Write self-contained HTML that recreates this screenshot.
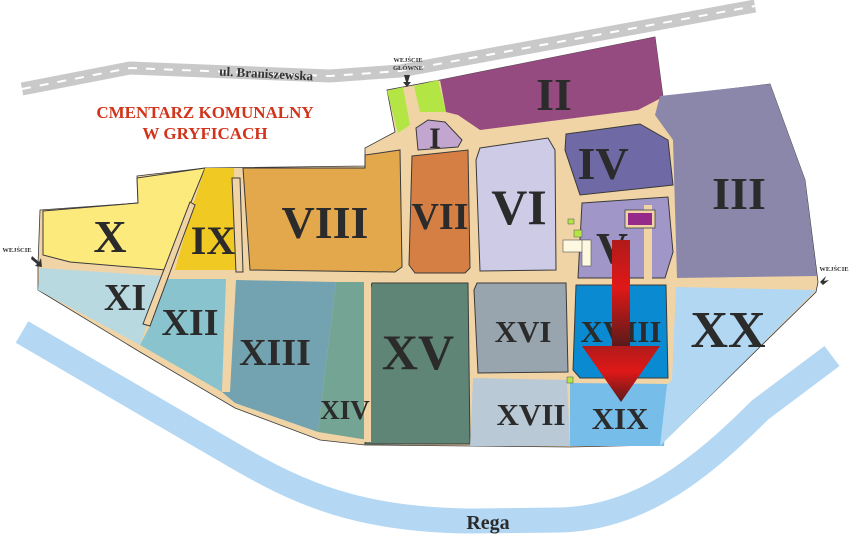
<!DOCTYPE html>
<html><head><meta charset="utf-8"><style>
html,body{margin:0;padding:0;background:#fff;width:851px;height:539px;overflow:hidden}
svg{display:block}
.n{font-family:"Liberation Serif",serif;font-weight:bold;fill:#2b2b2b;text-anchor:middle}
.s{stroke:#3a3a3a;stroke-width:1}
</style></head><body>
<svg width="851" height="539" viewBox="0 0 851 539">
<defs>
<linearGradient id="ar" x1="0" y1="0" x2="0" y2="1">
<stop offset="0" stop-color="#b01a1a"/><stop offset="0.45" stop-color="#e01818"/><stop offset="1" stop-color="#5a1a1a"/>
</linearGradient>
</defs>
<path d="M22,89 L130,68 L330,76 L400,71 L755,6" fill="none" stroke="#c8c9c8" stroke-width="13"/>
<path d="M22,89 L130,68 L330,76 L400,71 L755,6" fill="none" stroke="#fff" stroke-width="2" stroke-dasharray="9,9"/>
<text x="266" y="78" font-family="Liberation Serif,serif" font-weight="bold" font-size="13" fill="#333" transform="rotate(3 266 78)" text-anchor="middle">ul. Braniszewska</text>
<path d="M22,332 L235,456 C300,494 360,520 470,521 L560,520 C640,518 700,470 760,410 L832,356" fill="none" stroke="#b4d8f4" stroke-width="25"/>
<text x="488" y="529" class="n" font-size="20">Rega</text>
<polygon fill="#f0d4a6" stroke="#3a3a3a" stroke-width="0.8" points="40,210 138,203 137,176 205,168 365,166 365,148 395,132 387,90 440,80 655,37 663,97 770,84 805,180 818,282 816,292 660,445 570,447 470,446 365,445 320,440 235,408 140,352 38,290 38,265"/>
<polygon fill="#fdea7c" class="s" points="43,211 138,203 137,178 205,168 191,202 166,270 70,262 43,255"/>
<polygon fill="#f0c923" points="205,168 234,168 236,270 175,270 193,205"/>
<polygon fill="#e3a84c" class="s" points="243,168 365,168 365,155 400,150 402,267 395,272 250,270"/>
<polygon fill="#d67f45" class="s" points="412,156 468,150 470,268 465,273 415,273 409,265"/>
<polygon fill="#c3a6d0" class="s" points="416,128 428,120 445,122 462,140 458,147 418,150"/>
<polygon fill="#b3e645" points="387,91 403,87 410,125 398,133"/>
<polygon fill="#b3e645" points="414,86 438,80 446,112 420,112"/>
<polygon fill="#964b80" points="440,80 655,37 663,97 638,110 480,130 458,115 446,112"/>
<polygon fill="#cecbe6" class="s" points="480,148 548,138 555,150 556,270 480,271 476,160"/>
<polygon fill="#6f6aa5" class="s" points="566,134 640,124 668,140 673,185 580,195 565,150"/>
<polygon fill="#a097c8" class="s" points="582,203 668,197 673,252 665,278 578,278"/>
<rect x="644" y="205" width="8" height="75" fill="#f0d4a6"/>
<polygon fill="#8b87ab" points="660,96 770,84 805,180 817,276 677,278 673,140 655,115"/>
<polygon fill="#b9d9e0" points="40,268 162,276 145,330 140,345 38,290"/>
<polygon fill="#88c3ce" points="166,279 226,279 222,392 140,345 152,322"/>
<polygon fill="#73a3b0" points="236,280 336,282 318,432 235,403 222,392"/>
<polygon fill="#74a493" points="336,282 365,282 368,440 318,432"/>
<polygon fill="#5f8577" class="s" points="372,283 468,283 470,444 365,444 367,300"/>
<polygon fill="#99a5ae" class="s" points="477,283 566,283 568,372 478,373 474,290"/>
<polygon fill="#bac9d6" points="473,378 567,380 570,446 470,446"/>
<polygon fill="#0a8ad0" class="s" points="576,285 666,285 668,378 580,378 573,370"/>
<polygon fill="#77bdea" points="570,383 669,384 664,446 570,446"/>
<polygon fill="#b2d7f2" points="676,287 816,290 660,446 667,385 672,380"/>
<polygon fill="#f0d4a6" class="s" points="190,202 195,205 150,326 143,324"/>
<polygon fill="#f0d4a6" class="s" points="232,178 240,178 243,272 236,272"/>
<polygon fill="#f0d4a6" points="227,280 236,280 230,392 222,392"/>
<rect x="364" y="282" width="7" height="160" fill="#f0d4a6"/>
<rect x="563" y="240" width="27" height="12" fill="#fdf8e0" stroke="#555" stroke-width="0.6"/>
<rect x="582" y="240" width="9" height="26" fill="#fdf8e0" stroke="#555" stroke-width="0.6"/>
<rect x="568" y="219" width="6" height="5" fill="#b3e645" stroke="#555" stroke-width="0.5"/>
<rect x="574" y="230" width="8" height="7" fill="#b3e645" stroke="#555" stroke-width="0.5"/>
<rect x="625" y="210" width="30" height="18" fill="#f0d4a6" stroke="#444" stroke-width="0.8"/>
<rect x="628" y="213" width="24" height="12" fill="#952a8a"/>
<rect x="567" y="377" width="6" height="6" fill="#b3e645" stroke="#555" stroke-width="0.5"/>
<text x="554" y="110" class="n" font-size="46">II</text>
<text x="435" y="148" class="n" font-size="30">I</text>
<text x="603" y="179" class="n" font-size="46">IV</text>
<text x="739" y="209" class="n" font-size="46">III</text>
<text x="519" y="224" class="n" font-size="50">VI</text>
<text x="440" y="229" class="n" font-size="38">VII</text>
<text x="325" y="238" class="n" font-size="46">VIII</text>
<text x="213" y="254" class="n" font-size="40">IX</text>
<text x="110" y="252" class="n" font-size="46">X</text>
<text x="612" y="263" class="n" font-size="44">V</text>
<text x="125" y="310" class="n" font-size="38">XI</text>
<text x="190" y="335" class="n" font-size="38">XII</text>
<text x="275" y="365" class="n" font-size="38">XIII</text>
<text x="345" y="419" class="n" font-size="27">XIV</text>
<text x="418" y="369" class="n" font-size="50">XV</text>
<text x="523" y="342" class="n" font-size="31">XVI</text>
<text x="531" y="425" class="n" font-size="31">XVII</text>
<text x="621" y="342" class="n" font-size="31">XVIII</text>
<text x="620" y="429" class="n" font-size="31">XIX</text>
<text x="728" y="347" class="n" font-size="52">XX</text>
<rect x="612" y="240" width="18" height="106" fill="url(#ar)"/>
<polygon points="582,346 660,346 621,402" fill="url(#ar)"/>
<text x="205" y="118" font-family="Liberation Serif,serif" font-weight="bold" font-size="17" fill="#d1341b" text-anchor="middle">CMENTARZ  KOMUNALNY</text>
<text x="205" y="139" font-family="Liberation Serif,serif" font-weight="bold" font-size="17" fill="#d1341b" text-anchor="middle">W GRYFICACH</text>
<text x="408" y="62" font-family="Liberation Serif,serif" font-weight="bold" font-size="6.5" fill="#333" text-anchor="middle">WEJŚCIE</text>
<text x="408" y="70" font-family="Liberation Serif,serif" font-weight="bold" font-size="6.5" fill="#333" text-anchor="middle">GŁÓWNE</text>
<text x="17" y="252" font-family="Liberation Serif,serif" font-weight="bold" font-size="6.5" fill="#333" text-anchor="middle">WEJŚCIE</text>
<text x="834" y="271" font-family="Liberation Serif,serif" font-weight="bold" font-size="6.5" fill="#333" text-anchor="middle">WEJŚCIE</text>
<polygon points="404,75 410,75 408,82 411,82 407,87 403,82 406,82" fill="#333"/>
<polygon points="32,256 39,262 41,258 42,267 35,266 37,264 31,259" fill="#333"/>
<polygon points="820,282 826,276 824,281 829,280 823,285" fill="#333"/>
</svg>
</body></html>
